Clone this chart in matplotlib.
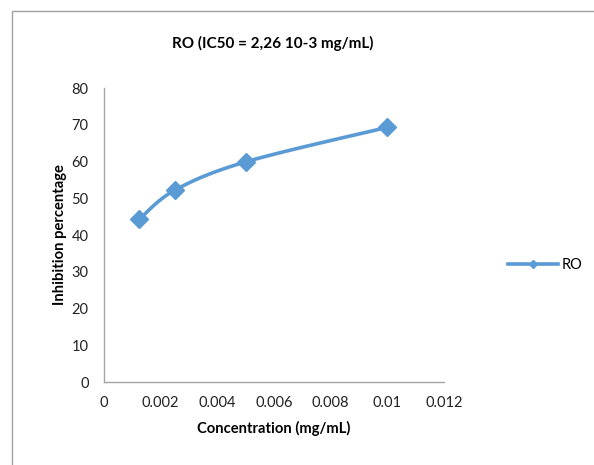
import numpy as np
import matplotlib.pyplot as plt
from matplotlib.lines import Line2D
from matplotlib.patches import Rectangle

# dose-response data
conc = [0.00125, 0.0025, 0.005, 0.01]
inhibition = [44.3, 52.2, 59.9, 69.3]
series_name = "RO"
title = "RO (IC50 = 2,26 10-3 mg/mL)"
xticks = [0, 0.002, 0.004, 0.006, 0.008, 0.01, 0.012]
xticklabels = ["0", "0.002", "0.004", "0.006", "0.008", "0.01", "0.012"]
yticks = [0, 10, 20, 30, 40, 50, 60, 70, 80]

blue = "#5b9bd5"
plt.rcParams['font.family'] = ['Lato', 'DejaVu Sans']


def smooth(x, y, steps=40):
    # catmull-rom curve through the points, like a spreadsheet smoothed line
    x = np.asarray(x, float)
    y = np.asarray(y, float)
    px = np.concatenate([[x[0]], x, [x[-1]]])
    py = np.concatenate([[y[0]], y, [y[-1]]])
    ox, oy = [], []
    t = np.linspace(0, 1, steps)
    for i in range(1, len(px) - 2):
        for p, out in ((px, ox), (py, oy)):
            p0, p1, p2, p3 = p[i - 1], p[i], p[i + 1], p[i + 2]
            m1 = (p2 - p0) / 2
            m2 = (p3 - p1) / 2
            h00 = 2 * t**3 - 3 * t**2 + 1
            h10 = t**3 - 2 * t**2 + t
            h01 = -2 * t**3 + 3 * t**2
            h11 = t**3 - t**2
            out.extend(h00 * p1 + h10 * m1 + h01 * p2 + h11 * m2)
    return ox, oy


fig = plt.figure(figsize=(5.94, 4.65), dpi=100)
W, H = 594, 465
ax = fig.add_axes([104 / W, 1 - 382 / H, (444 - 104) / W, (382 - 88) / H])

sx, sy = smooth(conc, inhibition)
ax.plot(sx, sy, color=blue, lw=2.6, solid_capstyle='round', zorder=2)
ax.plot(conc, inhibition, ls='none', marker='D', ms=9, color=blue, zorder=3)

ax.set_xlim(0, 0.012)
ax.set_ylim(0, 80)
ax.set_xticks(xticks)
ax.set_xticklabels(xticklabels)
ax.set_yticks(yticks)
for s in ('top', 'right'):
    ax.spines[s].set_visible(False)
for s in ('left', 'bottom'):
    ax.spines[s].set_color('#a6a6a6')
    ax.spines[s].set_linewidth(1)
ax.tick_params(length=0, labelsize=10.5, colors='#222222')
ax.tick_params(axis='x', pad=10)
ax.tick_params(axis='y', pad=11)

ax.set_xlabel("Concentration (mg/mL)", fontsize=10.6, fontweight='bold', labelpad=8)
ax.set_ylabel("Inhibition percentage", fontsize=10.6, fontweight='bold')
ax.yaxis.set_label_coords(-37 / 340, 0.5)
fig.text(273 / W, 1 - 43 / H, title, ha='center', va='center',
         fontsize=11, fontweight='bold')

# legend
handle = Line2D([0], [0], color=blue, lw=2.6, marker='D', ms=4.5)
fig.legend([handle], [series_name], loc='center left',
           bbox_to_anchor=(495 / W, 1 - 265 / H), frameon=False,
           fontsize=10.5, handlelength=3.4, handletextpad=0.3)

# chart area border
fig.patches.append(Rectangle((12 / W, -0.1), 1.2, 1 - 11 / H + 0.1,
                             transform=fig.transFigure, fill=False,
                             edgecolor='#a0a0a0', lw=1))

fig.savefig("out.png", dpi=100)
